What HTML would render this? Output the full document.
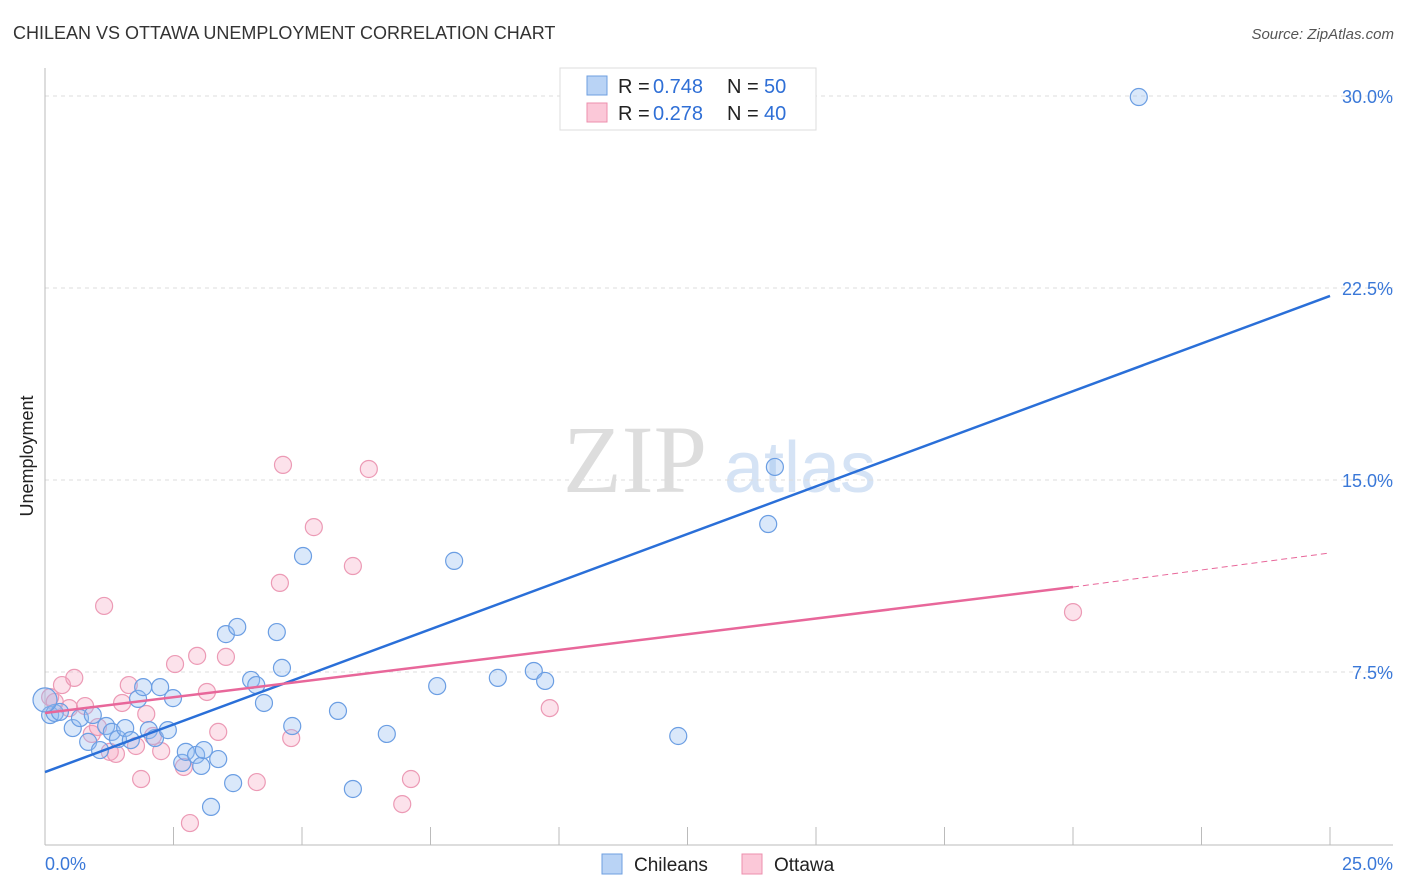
<!DOCTYPE html>
<html><head><meta charset="utf-8"><style>
body{margin:0;background:#fff;font-family:"Liberation Sans",sans-serif;}
svg{display:block}
</style></head><body>
<svg id="chart" width="1406" height="892">
<text x="13" y="39" font-size="18" fill="#333">CHILEAN VS OTTAWA UNEMPLOYMENT CORRELATION CHART</text>
<text x="1394" y="39" font-size="15" fill="#555" font-style="italic" text-anchor="end">Source: ZipAtlas.com</text>
<text x="0" y="0" font-size="18" fill="#222" transform="translate(33,456) rotate(-90)" text-anchor="middle">Unemployment</text>
<g><text x="635" y="492" font-size="96" font-family="Liberation Serif,serif" fill="#ddd" text-anchor="middle">ZIP</text><text x="800" y="492" font-size="72" fill="#d5e3f5" text-anchor="middle">atlas</text></g>
<g id="grid"></g><g id="axes"></g><g id="marks"></g>
<g>
<rect x="560" y="68" width="256" height="62" fill="#fff" stroke="#ddd"/>
<rect x="587" y="76" width="20" height="19" fill="#b9d3f5" stroke="#6e9fe0"/>
<rect x="587" y="103" width="20" height="19" fill="#fbc8d8" stroke="#ec8fae"/>
<text y="93" font-size="20" fill="#222"><tspan x="618">R =</tspan><tspan x="653" fill="#2f6fd6">0.748</tspan><tspan x="727">N =</tspan><tspan x="764" fill="#2f6fd6">50</tspan></text>
<text y="120" font-size="20" fill="#222"><tspan x="618">R =</tspan><tspan x="653" fill="#2f6fd6">0.278</tspan><tspan x="727">N =</tspan><tspan x="764" fill="#2f6fd6">40</tspan></text>
</g>
<g>
<rect x="602" y="854" width="20" height="20" fill="#b9d3f5" stroke="#6e9fe0"/>
<text x="634" y="871" font-size="19" fill="#222">Chileans</text>
<rect x="742" y="854" width="20" height="20" fill="#fbc8d8" stroke="#ec8fae"/>
<text x="774" y="871" font-size="19" fill="#222">Ottawa</text>
</g>
</svg>
<script>
const yTicks=[7.5,15,22.5,30];
const yTickLabels=["7.5%","15.0%","22.5%","30.0%"];
const xTickVals=[0,2.5,5,7.5,10,12.5,15,17.5,20,22.5,25];
const blueX=[0.10,0.19,0.29,0.54,0.68,0.84,0.93,1.07,1.19,1.30,1.42,1.56,1.67,1.81,1.91,2.02,2.14,2.24,2.39,2.49,2.67,2.74,2.94,3.04,3.09,3.23,3.37,3.52,3.66,3.74,4.01,4.11,4.26,4.51,4.61,4.81,5.02,5.70,5.99,6.65,7.63,7.96,8.81,9.51,9.73,12.32,14.07,14.20,21.28,0];
const blueY=[5.82,5.90,5.94,5.31,5.70,4.77,5.82,4.45,5.39,5.16,4.88,5.31,4.84,6.45,6.91,5.23,4.92,6.91,5.23,6.48,3.95,4.38,4.26,3.83,4.45,2.23,4.10,8.98,3.16,9.26,7.19,6.99,6.29,9.06,7.66,5.39,12.03,5.98,2.93,5.08,6.95,11.84,7.27,7.54,7.15,5.00,13.28,15.51,29.96,6.41];
const pinkX=[0.10,0.19,0.33,0.47,0.57,0.78,0.91,1.03,1.15,1.26,1.38,1.50,1.63,1.77,1.87,1.97,2.10,2.26,2.53,2.70,2.82,2.96,3.15,3.37,3.52,4.12,4.57,4.63,4.79,5.23,5.99,6.30,6.95,7.12,9.82,20.00];
const pinkY=[6.52,6.33,6.99,6.09,7.27,6.17,5.08,5.35,10.08,4.38,4.30,6.29,6.99,4.61,3.32,5.86,5.00,4.41,7.81,3.79,1.60,8.13,6.72,5.16,8.09,3.20,10.98,15.59,4.92,13.16,11.64,15.43,2.34,3.32,6.09,9.84];
const blueTrend=[[0,3.59],[25,22.19]];
const pinkTrend=[[0,5.90],[20,10.82]];
const pinkTrendExt=[[20,10.82],[25,12.15]];
const X=v=>45+v/25*1285, Y=v=>864-v*25.6;
const NS="http://www.w3.org/2000/svg";
function mk(parent,tag,attrs){const e=document.createElementNS(NS,tag);for(const k in attrs)e.setAttribute(k,attrs[k]);document.getElementById(parent).appendChild(e);return e;}
yTicks.forEach((t,i)=>{
 const l=mk('grid','line',{x1:45,x2:1393,y1:Y(t),y2:Y(t),stroke:'#ddd','stroke-dasharray':'4,4'});
 
 
 const tx=mk('grid','text',{x:1393,y:Y(t)+7,'font-size':18,fill:'#3a78d8','text-anchor':'end'});
 tx.textContent=yTickLabels[i];
 
 
});
let a=mk('axes','line',{x1:45,x2:45,y1:68,y2:845,stroke:'#bbb'});


a=mk('axes','line',{x1:45,x2:1393,y1:845,y2:845,stroke:'#bbb'});


xTickVals.forEach(t=>{const l=mk('axes','line',{x1:X(t),x2:X(t),y1:827,y2:845,stroke:'#bbb'});
 
 });
let t0=mk('axes','text',{x:45,y:870,'font-size':18,fill:'#3a78d8'});t0.textContent='0.0%';


let t1=mk('axes','text',{x:1393,y:870,'font-size':18,fill:'#3a78d8','text-anchor':'end'});t1.textContent='25.0%';


pinkX.forEach((x,i)=>{const c=mk('marks','circle',{cx:X(x),cy:Y(pinkY[i]),r:8.5,fill:'rgba(245,160,190,0.3)',stroke:'#ec9ab5','stroke-width':1.2});
 
 });
blueX.forEach((x,i)=>{const c=mk('marks','circle',{cx:X(x),cy:Y(blueY[i]),r:i===blueX.length-1?12:8.5,fill:'rgba(150,190,240,0.35)',stroke:'#6b9ee3','stroke-width':1.2});
 
 });
let tl=mk('marks','line',{x1:X(blueTrend[0][0]),y1:Y(blueTrend[0][1]),x2:X(blueTrend[1][0]),y2:Y(blueTrend[1][1]),stroke:'#2a6fd8','stroke-width':2.5});


tl=mk('marks','line',{x1:X(pinkTrend[0][0]),y1:Y(pinkTrend[0][1]),x2:X(pinkTrend[1][0]),y2:Y(pinkTrend[1][1]),stroke:'#e8679a','stroke-width':2.5});


tl=mk('marks','line',{x1:X(pinkTrendExt[0][0]),y1:Y(pinkTrendExt[0][1]),x2:X(pinkTrendExt[1][0]),y2:Y(pinkTrendExt[1][1]),stroke:'#e8679a','stroke-width':1,'stroke-dasharray':'6,4'});


</script>
</body></html>
